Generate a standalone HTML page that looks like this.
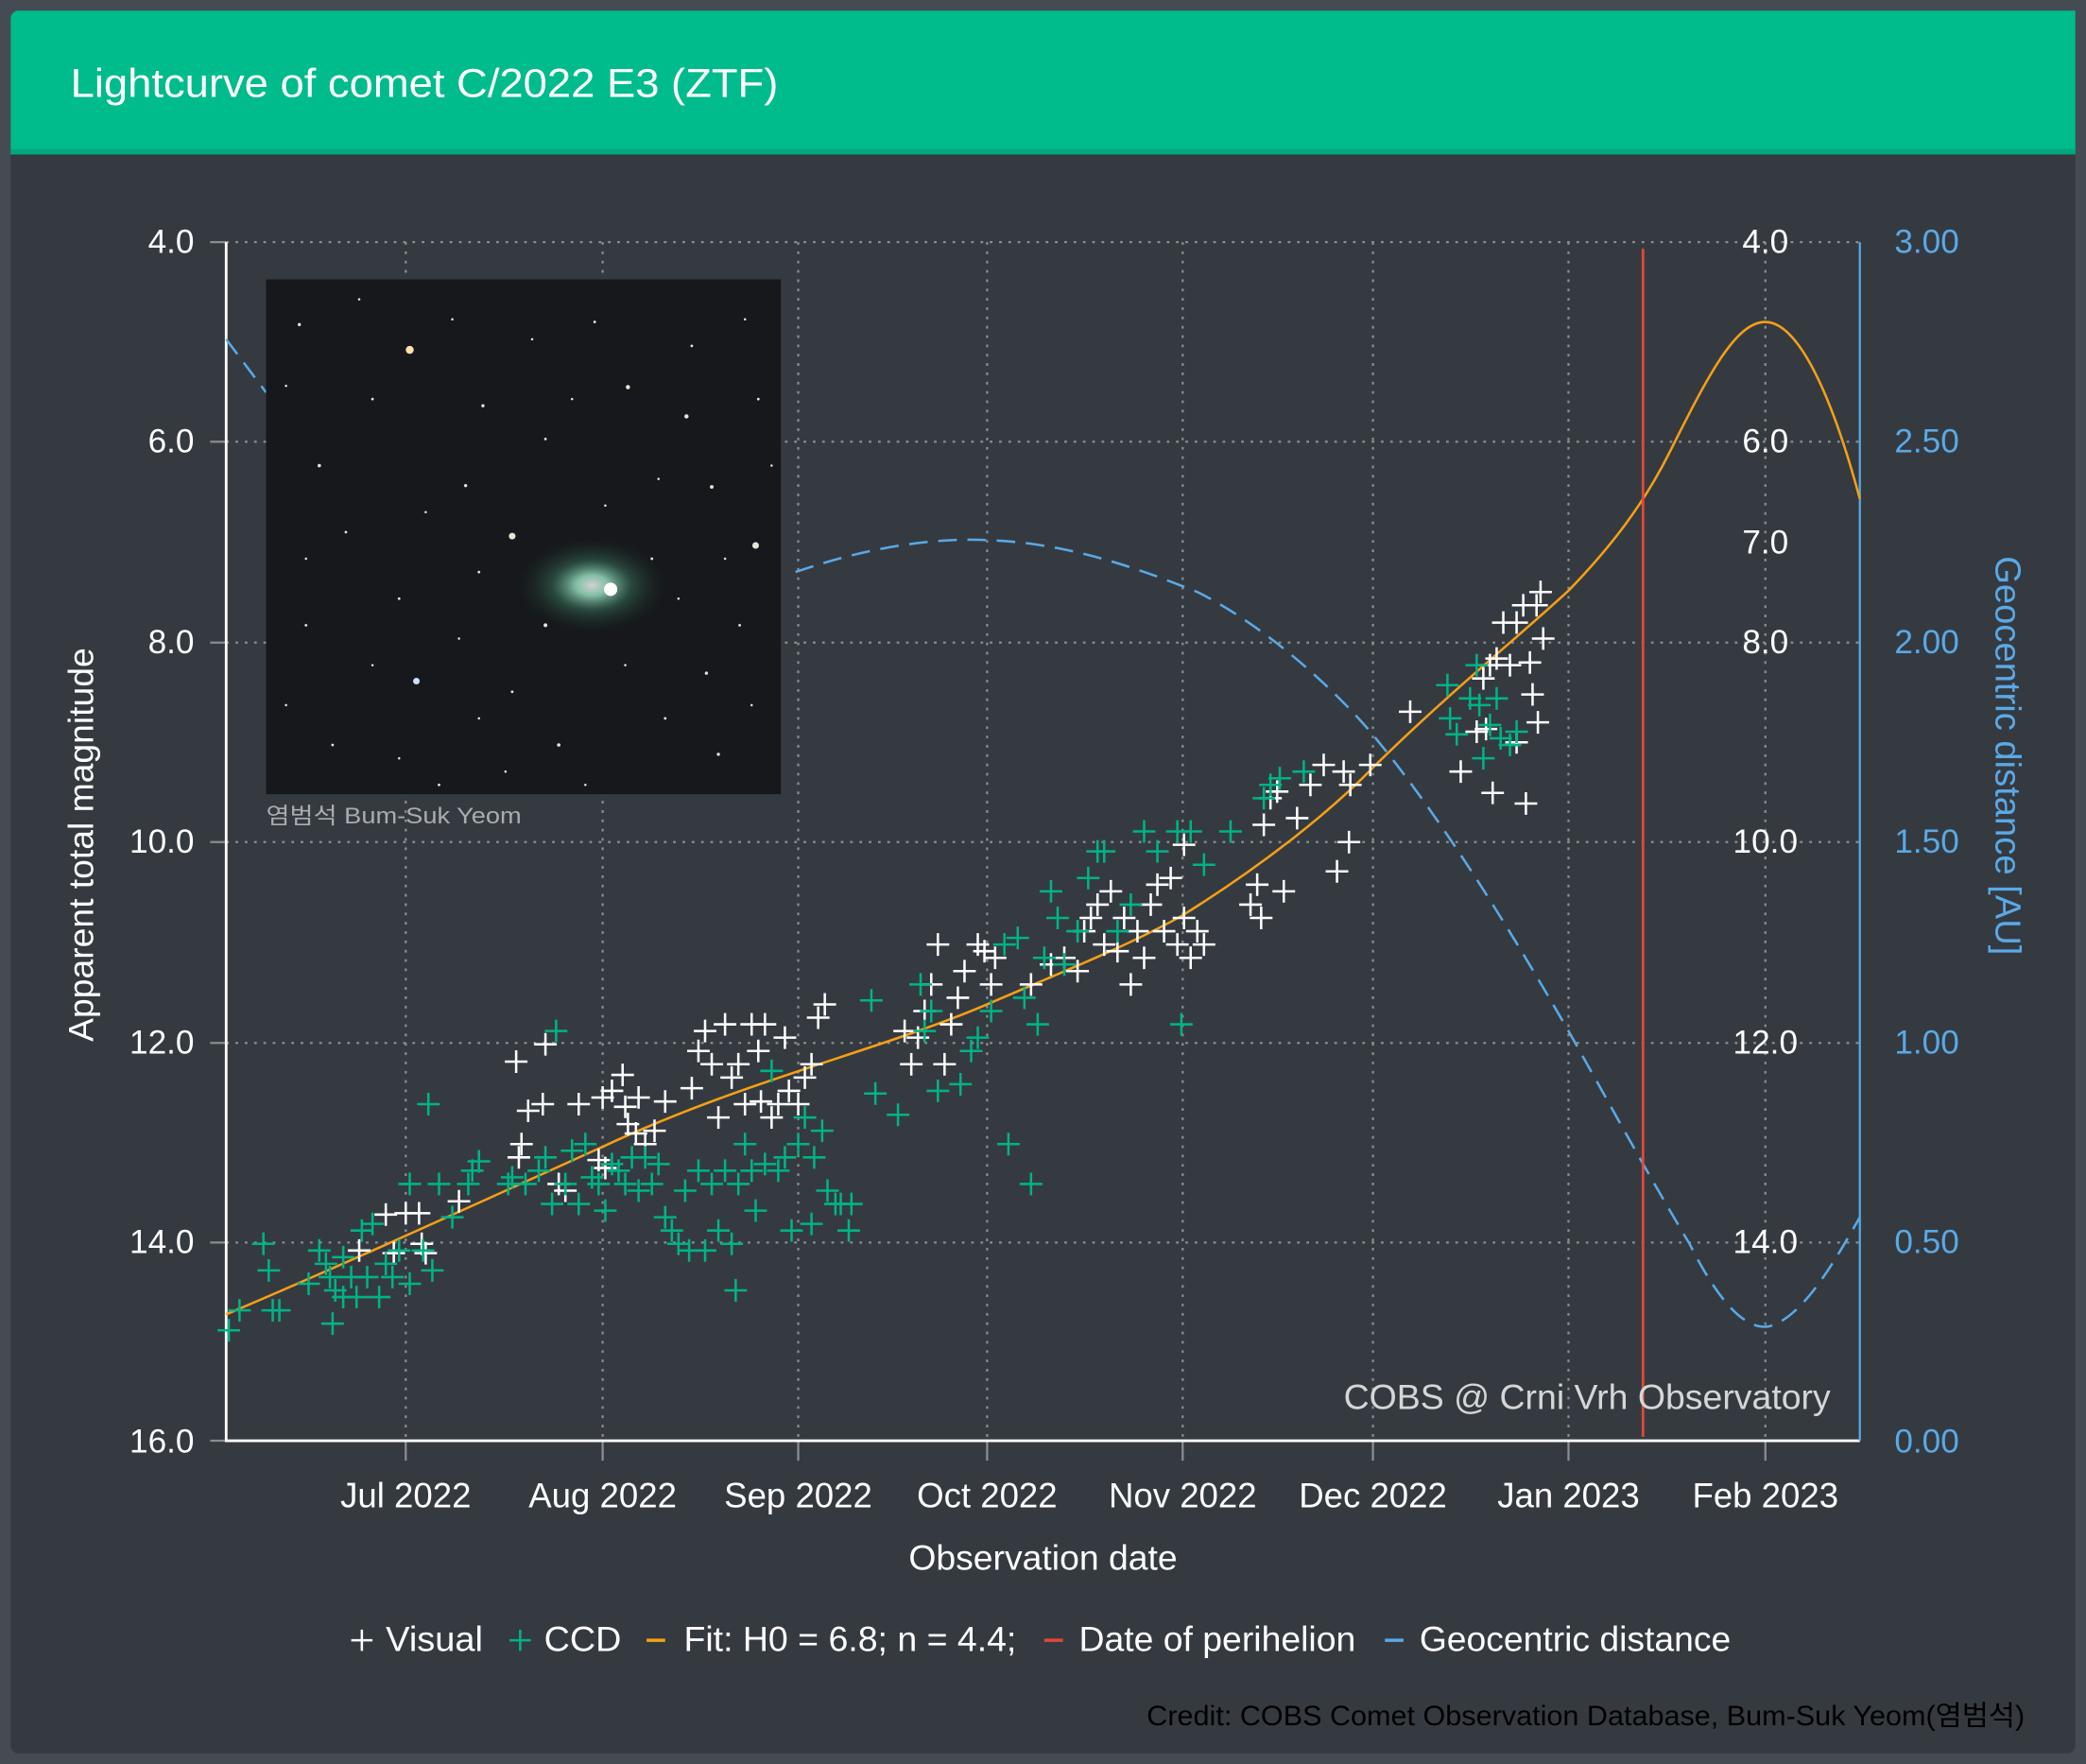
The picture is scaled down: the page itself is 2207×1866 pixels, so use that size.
<!DOCTYPE html>
<html><head><meta charset="utf-8"><style>
html,body{margin:0;padding:0;background:#454b53;}
svg{display:block}
text{font-family:"Liberation Sans","Noto Sans CJK KR",sans-serif;}
</style></head><body>
<svg width="2207" height="1866" viewBox="0 0 1568 1326" preserveAspectRatio="none" xmlns="http://www.w3.org/2000/svg">
<defs>
<symbol id="w" overflow="visible"><path d="M-8.5 0h17M0 -8.5v17" stroke="#fff" stroke-width="1.8"/></symbol>
<symbol id="g" overflow="visible"><path d="M-8.5 0h17M0 -8.5v17" stroke="#00b386" stroke-width="1.8"/></symbol>
<radialGradient id="cm" cx="0.5" cy="0.5" r="0.5">
<stop offset="0" stop-color="#ffffff"/><stop offset="0.2" stop-color="#9fe8c8"/><stop offset="0.5" stop-color="#3c7a60" stop-opacity="0.6"/><stop offset="1" stop-color="#15171a" stop-opacity="0"/>
</radialGradient>
</defs>
<rect x="0" y="0" width="1568" height="1326" fill="#454b53"/>
<rect x="8" y="8" width="1552" height="1310" rx="6" fill="#353a41"/>
<path d="M14 8h1546v108H8V14a6 6 0 0 1 6-6z" fill="#00bb8c"/>
<rect x="8" y="112" width="1552" height="4" fill="#00a87e"/>
<text x="53" y="73" font-size="30" fill="#fff" textLength="532" lengthAdjust="spacingAndGlyphs">Lightcurve of comet C/2022 E3 (ZTF)</text>

<!-- grid -->
<g stroke="#8a8d91" stroke-width="1.6" stroke-dasharray="2,5">
<path d="M170 182H1398M170 332H1398M170 483H1398M170 633H1398M170 784H1398M170 934H1398"/>
<path d="M305 182V1083M453 182V1083M600 182V1083M742 182V1083M889 182V1083M1032 182V1083M1179 182V1083M1327 182V1083"/>
</g>
<g stroke="#8a8d91" stroke-width="1.6">
<path d="M158 182h12M158 332h12M158 483h12M158 633h12M158 784h12M158 934h12M158 1083h12"/>
<path d="M305 1083v15M453 1083v15M600 1083v15M742 1083v15M889 1083v15M1032 1083v15M1179 1083v15M1327 1083v15"/>
</g>
<path d="M170 182V1083H1398" stroke="#fff" stroke-width="2" fill="none"/>
<path d="M1398 182V1083" stroke="#5aa9e6" stroke-width="1.6"/>

<!-- geocentric dashed -->
<path d="M170 255 L200 295 M598 430 C650 412 700 404 742 406 C800 408 850 425 900 445 C950 470 1000 515 1030 550 C1080 610 1130 690 1179 775 C1210 830 1240 885 1270 935 C1295 985 1315 1000 1330 997 C1355 990 1378 950 1398 915" stroke="#5aa9e6" stroke-width="1.8" fill="none" stroke-dasharray="14,8"/>
<!-- fit -->
<path d="M170 988 C260 950 380 895 453 862 C560 812 660 790 742 755 C800 730 850 710 889 688 C950 650 1000 610 1032 577 C1090 520 1140 480 1179 444 C1210 412 1235 380 1255 340 C1285 280 1305 242 1327 242 C1350 242 1375 290 1398 375" stroke="#f5a016" stroke-width="1.8" fill="none"/>
<!-- perihelion -->
<path d="M1235 187V1080" stroke="#e0483a" stroke-width="2"/>

<!-- inset image -->
<rect x="200" y="210" width="387" height="387" fill="#16181b"/>
<ellipse cx="445" cy="440" rx="60" ry="38" fill="url(#cm)" opacity="0.8"/>
<circle cx="459" cy="443" r="5" fill="#fff"/>
<g fill="#e8e4d8">
<circle cx="308" cy="263" r="3" fill="#ffe0b0"/><circle cx="385" cy="403" r="2.5"/><circle cx="568" cy="410" r="2.5"/><circle cx="313" cy="512" r="2.5" fill="#cdf"/><circle cx="472" cy="291" r="1.6"/><circle cx="516" cy="313" r="1.6"/><circle cx="535" cy="366" r="1.4"/><circle cx="363" cy="305" r="1.2"/><circle cx="240" cy="350" r="1.3"/><circle cx="225" cy="244" r="1.2"/><circle cx="350" cy="365" r="1.2"/><circle cx="410" cy="470" r="1.4"/><circle cx="531" cy="506" r="1.2"/><circle cx="540" cy="567" r="1.2"/><circle cx="260" cy="400" r="1"/><circle cx="300" cy="450" r="1"/><circle cx="420" cy="560" r="1.3"/><circle cx="500" cy="540" r="1"/><circle cx="570" cy="300" r="1"/><circle cx="447" cy="242" r="1"/><circle cx="250" cy="560" r="1"/><circle cx="330" cy="590" r="1"/><circle cx="490" cy="420" r="1"/><circle cx="385" cy="520" r="1"/><circle cx="556" cy="470" r="1"/><circle cx="280" cy="300" r="1"/><circle cx="410" cy="330" r="1"/><circle cx="230" cy="470" r="1"/><circle cx="360" cy="430" r="1"/><circle cx="520" cy="260" r="1"/>
<circle cx="215" cy="290" r="0.9"/><circle cx="270" cy="225" r="0.9"/><circle cx="340" cy="240" r="0.9"/><circle cx="400" cy="255" r="0.9"/><circle cx="430" cy="300" r="0.9"/><circle cx="560" cy="240" r="0.9"/><circle cx="580" cy="350" r="0.9"/><circle cx="495" cy="360" r="0.9"/><circle cx="455" cy="380" r="0.9"/><circle cx="320" cy="385" r="0.9"/><circle cx="230" cy="420" r="0.9"/><circle cx="280" cy="500" r="0.9"/><circle cx="345" cy="480" r="0.9"/><circle cx="470" cy="500" r="0.9"/><circle cx="565" cy="530" r="0.9"/><circle cx="440" cy="590" r="0.9"/><circle cx="300" cy="570" r="0.9"/><circle cx="215" cy="530" r="0.9"/><circle cx="380" cy="580" r="0.9"/><circle cx="510" cy="450" r="0.9"/><circle cx="545" cy="420" r="0.9"/><circle cx="360" cy="540" r="0.9"/>
</g>
<text x="200" y="619" font-size="17" fill="#a9acb0" textLength="192" lengthAdjust="spacingAndGlyphs">염범석 Bum-Suk Yeom</text>

<!-- visual -->
<g>
<use href="#w" x="270" y="940"/><use href="#w" x="296" y="942"/><use href="#w" x="290" y="913"/><use href="#w" x="305" y="912"/><use href="#w" x="315" y="912"/><use href="#w" x="317" y="935"/><use href="#w" x="320" y="942"/><use href="#w" x="345" y="903"/><use href="#w" x="388" y="798"/><use href="#w" x="392" y="860"/><use href="#w" x="390" y="870"/><use href="#w" x="397" y="835"/><use href="#w" x="408" y="830"/><use href="#w" x="410" y="785"/><use href="#w" x="420" y="890"/><use href="#w" x="425" y="895"/><use href="#w" x="435" y="830"/><use href="#w" x="450" y="872"/><use href="#w" x="455" y="878"/><use href="#w" x="453" y="825"/><use href="#w" x="460" y="820"/><use href="#w" x="468" y="808"/><use href="#w" x="470" y="832"/><use href="#w" x="472" y="845"/><use href="#w" x="478" y="852"/><use href="#w" x="480" y="825"/><use href="#w" x="485" y="860"/><use href="#w" x="492" y="850"/><use href="#w" x="500" y="828"/><use href="#w" x="520" y="818"/><use href="#w" x="525" y="790"/><use href="#w" x="530" y="775"/><use href="#w" x="535" y="800"/><use href="#w" x="540" y="840"/><use href="#w" x="545" y="770"/><use href="#w" x="550" y="810"/><use href="#w" x="555" y="800"/><use href="#w" x="560" y="830"/><use href="#w" x="565" y="770"/><use href="#w" x="570" y="790"/><use href="#w" x="572" y="828"/><use href="#w" x="575" y="770"/><use href="#w" x="580" y="840"/><use href="#w" x="585" y="830"/><use href="#w" x="590" y="780"/><use href="#w" x="593" y="820"/><use href="#w" x="600" y="830"/><use href="#w" x="605" y="810"/><use href="#w" x="610" y="800"/><use href="#w" x="615" y="765"/><use href="#w" x="620" y="755"/><use href="#w" x="680" y="775"/><use href="#w" x="685" y="800"/><use href="#w" x="690" y="780"/><use href="#w" x="695" y="760"/><use href="#w" x="700" y="740"/><use href="#w" x="705" y="710"/><use href="#w" x="710" y="800"/><use href="#w" x="715" y="770"/><use href="#w" x="720" y="750"/><use href="#w" x="725" y="730"/><use href="#w" x="735" y="710"/><use href="#w" x="740" y="715"/><use href="#w" x="745" y="740"/><use href="#w" x="748" y="720"/><use href="#w" x="775" y="740"/><use href="#w" x="790" y="725"/><use href="#w" x="800" y="720"/><use href="#w" x="810" y="730"/><use href="#w" x="815" y="700"/><use href="#w" x="820" y="690"/><use href="#w" x="825" y="680"/><use href="#w" x="830" y="710"/><use href="#w" x="835" y="670"/><use href="#w" x="840" y="715"/><use href="#w" x="845" y="690"/><use href="#w" x="850" y="740"/><use href="#w" x="855" y="700"/><use href="#w" x="860" y="720"/><use href="#w" x="865" y="680"/><use href="#w" x="870" y="665"/><use href="#w" x="875" y="700"/><use href="#w" x="880" y="660"/><use href="#w" x="885" y="710"/><use href="#w" x="890" y="690"/><use href="#w" x="890" y="635"/><use href="#w" x="895" y="720"/><use href="#w" x="900" y="700"/><use href="#w" x="905" y="710"/><use href="#w" x="940" y="680"/><use href="#w" x="945" y="665"/><use href="#w" x="948" y="690"/><use href="#w" x="950" y="620"/><use href="#w" x="955" y="600"/><use href="#w" x="960" y="595"/><use href="#w" x="965" y="670"/><use href="#w" x="975" y="615"/><use href="#w" x="985" y="590"/><use href="#w" x="995" y="575"/><use href="#w" x="1005" y="655"/><use href="#w" x="1010" y="580"/><use href="#w" x="1015" y="590"/><use href="#w" x="1014" y="633"/><use href="#w" x="1030" y="575"/><use href="#w" x="1060" y="535"/><use href="#w" x="1098" y="580"/><use href="#w" x="1110" y="550"/><use href="#w" x="1115" y="510"/><use href="#w" x="1120" y="500"/><use href="#w" x="1125" y="495"/><use href="#w" x="1130" y="468"/><use href="#w" x="1135" y="500"/><use href="#w" x="1140" y="468"/><use href="#w" x="1145" y="455"/><use href="#w" x="1150" y="498"/><use href="#w" x="1155" y="455"/><use href="#w" x="1158" y="445"/><use href="#w" x="1160" y="480"/><use href="#w" x="1152" y="522"/><use href="#w" x="1140" y="558"/><use href="#w" x="1147" y="604"/><use href="#w" x="1156" y="543"/><use href="#w" x="1122" y="596"/><use href="#w" x="1117" y="548"/>
</g>
<!-- ccd -->
<g>
<use href="#g" x="172" y="1000"/><use href="#g" x="180" y="985"/><use href="#g" x="198" y="935"/><use href="#g" x="202" y="955"/><use href="#g" x="205" y="985"/><use href="#g" x="210" y="985"/><use href="#g" x="232" y="965"/><use href="#g" x="240" y="940"/><use href="#g" x="245" y="950"/><use href="#g" x="248" y="960"/><use href="#g" x="252" y="970"/><use href="#g" x="250" y="995"/><use href="#g" x="258" y="975"/><use href="#g" x="258" y="945"/><use href="#g" x="264" y="960"/><use href="#g" x="268" y="975"/><use href="#g" x="272" y="925"/><use href="#g" x="276" y="960"/><use href="#g" x="280" y="920"/><use href="#g" x="285" y="975"/><use href="#g" x="290" y="950"/><use href="#g" x="295" y="960"/><use href="#g" x="300" y="940"/><use href="#g" x="308" y="890"/><use href="#g" x="308" y="965"/><use href="#g" x="318" y="940"/><use href="#g" x="322" y="830"/><use href="#g" x="325" y="955"/><use href="#g" x="330" y="890"/><use href="#g" x="340" y="915"/><use href="#g" x="352" y="890"/><use href="#g" x="355" y="880"/><use href="#g" x="360" y="873"/><use href="#g" x="382" y="890"/><use href="#g" x="385" y="885"/><use href="#g" x="395" y="890"/><use href="#g" x="405" y="880"/><use href="#g" x="410" y="870"/><use href="#g" x="415" y="905"/><use href="#g" x="418" y="775"/><use href="#g" x="425" y="890"/><use href="#g" x="430" y="865"/><use href="#g" x="435" y="905"/><use href="#g" x="440" y="860"/><use href="#g" x="445" y="885"/><use href="#g" x="450" y="890"/><use href="#g" x="455" y="910"/><use href="#g" x="460" y="875"/><use href="#g" x="465" y="880"/><use href="#g" x="470" y="890"/><use href="#g" x="475" y="870"/><use href="#g" x="480" y="895"/><use href="#g" x="485" y="870"/><use href="#g" x="490" y="890"/><use href="#g" x="495" y="875"/><use href="#g" x="500" y="915"/><use href="#g" x="505" y="925"/><use href="#g" x="510" y="935"/><use href="#g" x="515" y="895"/><use href="#g" x="518" y="940"/><use href="#g" x="525" y="880"/><use href="#g" x="530" y="940"/><use href="#g" x="535" y="890"/><use href="#g" x="540" y="925"/><use href="#g" x="545" y="880"/><use href="#g" x="550" y="935"/><use href="#g" x="553" y="970"/><use href="#g" x="555" y="890"/><use href="#g" x="560" y="860"/><use href="#g" x="565" y="880"/><use href="#g" x="568" y="910"/><use href="#g" x="575" y="875"/><use href="#g" x="580" y="805"/><use href="#g" x="585" y="880"/><use href="#g" x="590" y="870"/><use href="#g" x="595" y="925"/><use href="#g" x="600" y="860"/><use href="#g" x="605" y="840"/><use href="#g" x="610" y="920"/><use href="#g" x="612" y="870"/><use href="#g" x="618" y="850"/><use href="#g" x="622" y="895"/><use href="#g" x="628" y="905"/><use href="#g" x="632" y="905"/><use href="#g" x="638" y="925"/><use href="#g" x="640" y="905"/><use href="#g" x="655" y="752"/><use href="#g" x="658" y="822"/><use href="#g" x="675" y="838"/><use href="#g" x="692" y="740"/><use href="#g" x="695" y="775"/><use href="#g" x="700" y="760"/><use href="#g" x="705" y="820"/><use href="#g" x="722" y="815"/><use href="#g" x="730" y="790"/><use href="#g" x="735" y="780"/><use href="#g" x="745" y="760"/><use href="#g" x="755" y="710"/><use href="#g" x="758" y="860"/><use href="#g" x="765" y="705"/><use href="#g" x="770" y="750"/><use href="#g" x="775" y="890"/><use href="#g" x="780" y="770"/><use href="#g" x="785" y="720"/><use href="#g" x="790" y="670"/><use href="#g" x="795" y="690"/><use href="#g" x="800" y="725"/><use href="#g" x="810" y="700"/><use href="#g" x="818" y="660"/><use href="#g" x="825" y="640"/><use href="#g" x="830" y="640"/><use href="#g" x="840" y="700"/><use href="#g" x="850" y="680"/><use href="#g" x="860" y="625"/><use href="#g" x="870" y="640"/><use href="#g" x="885" y="625"/><use href="#g" x="888" y="770"/><use href="#g" x="895" y="625"/><use href="#g" x="905" y="650"/><use href="#g" x="925" y="625"/><use href="#g" x="950" y="600"/><use href="#g" x="955" y="590"/><use href="#g" x="962" y="585"/><use href="#g" x="980" y="580"/><use href="#g" x="1088" y="515"/><use href="#g" x="1090" y="540"/><use href="#g" x="1095" y="552"/><use href="#g" x="1105" y="525"/><use href="#g" x="1110" y="500"/><use href="#g" x="1112" y="530"/><use href="#g" x="1115" y="570"/><use href="#g" x="1120" y="545"/><use href="#g" x="1128" y="555"/><use href="#g" x="1135" y="560"/><use href="#g" x="1140" y="550"/><use href="#g" x="1125" y="525"/>
</g>

<!-- left ticks -->
<g font-size="25" fill="#fff" text-anchor="end">
<text x="146" y="190">4.0</text><text x="146" y="340">6.0</text><text x="146" y="491">8.0</text><text x="146" y="641">10.0</text><text x="146" y="792">12.0</text><text x="146" y="942">14.0</text><text x="146" y="1092">16.0</text>
</g>
<!-- inner right labels -->
<g font-size="25" fill="#fff" text-anchor="middle">
<text x="1327" y="190">4.0</text><text x="1327" y="340">6.0</text><text x="1327" y="416">7.0</text><text x="1327" y="491">8.0</text><text x="1327" y="641">10.0</text><text x="1327" y="792">12.0</text><text x="1327" y="942">14.0</text>
</g>
<!-- right axis -->
<g font-size="25" fill="#5aa9e6">
<text x="1424" y="190">3.00</text><text x="1424" y="340">2.50</text><text x="1424" y="491">2.00</text><text x="1424" y="641">1.50</text><text x="1424" y="792">1.00</text><text x="1424" y="942">0.50</text><text x="1424" y="1092">0.00</text>
</g>
<text transform="translate(1500,568) rotate(90)" font-size="27" fill="#5aa9e6" text-anchor="middle" textLength="300" lengthAdjust="spacingAndGlyphs">Geocentric distance [AU]</text>
<text transform="translate(70,635) rotate(-90)" font-size="26" fill="#fff" text-anchor="middle" textLength="296" lengthAdjust="spacingAndGlyphs">Apparent total magnitude</text>
<!-- x ticks -->
<g font-size="26" fill="#fff" text-anchor="middle">
<text x="305" y="1133">Jul 2022</text><text x="453" y="1133">Aug 2022</text><text x="600" y="1133">Sep 2022</text><text x="742" y="1133">Oct 2022</text><text x="889" y="1133">Nov 2022</text><text x="1032" y="1133">Dec 2022</text><text x="1179" y="1133">Jan 2023</text><text x="1327" y="1133">Feb 2023</text>
<text x="784" y="1180" textLength="202" lengthAdjust="spacingAndGlyphs">Observation date</text>
</g>
<text x="1010" y="1059" font-size="26" fill="#d6d6d6" textLength="366" lengthAdjust="spacingAndGlyphs">COBS @ Crni Vrh Observatory</text>

<!-- legend -->
<g font-size="26" fill="#fff">
<path d="M264 1233h16M272 1225v16" stroke="#fff" stroke-width="1.8"/>
<text x="290" y="1241" textLength="73" lengthAdjust="spacingAndGlyphs">Visual</text>
<path d="M383 1233h16M391 1225v16" stroke="#00b386" stroke-width="1.8"/>
<text x="409" y="1241" textLength="58" lengthAdjust="spacingAndGlyphs">CCD</text>
<path d="M486 1233h14" stroke="#f5a016" stroke-width="2.5"/>
<text x="514" y="1241" textLength="250" lengthAdjust="spacingAndGlyphs">Fit: H0 = 6.8; n = 4.4;</text>
<path d="M785 1233h14" stroke="#e0483a" stroke-width="2.5"/>
<text x="811" y="1241" textLength="208" lengthAdjust="spacingAndGlyphs">Date of perihelion</text>
<path d="M1041 1233h14" stroke="#5aa9e6" stroke-width="2.5"/>
<text x="1067" y="1241" textLength="234" lengthAdjust="spacingAndGlyphs">Geocentric distance</text>
</g>
<text x="862" y="1297" font-size="21" fill="#000" textLength="660" lengthAdjust="spacingAndGlyphs">Credit: COBS Comet Observation Database, Bum-Suk Yeom(염범석)</text>
</svg>
</body></html>
